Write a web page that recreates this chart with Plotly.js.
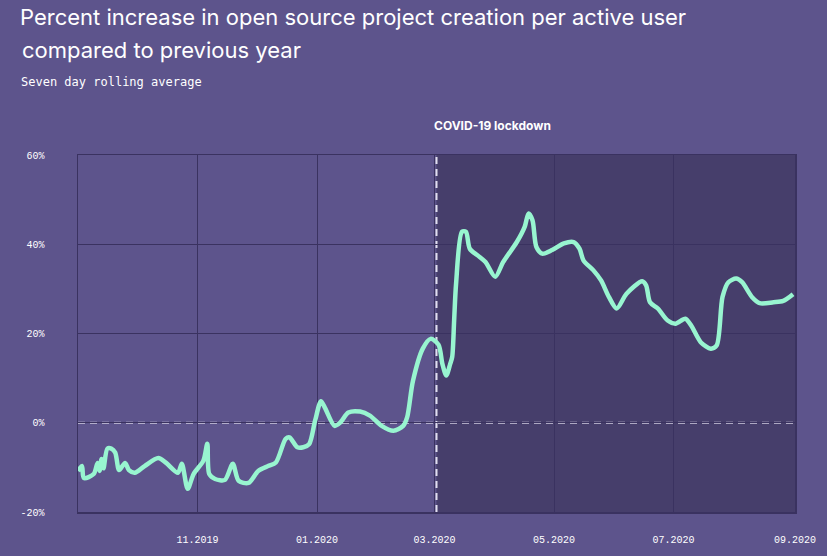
<!DOCTYPE html>
<html>
<head>
<meta charset="utf-8">
<script src="https://cdn.plot.ly/plotly-3.0.1.min.js"></script>
<style>html,body{margin:0;padding:0;background:#5d548c;}#chart{width:827px;height:556px;}</style>
</head>
<body>
<div id="chart"></div>
<script>
const dates = [
 '2019-09-01','2019-09-03','2019-09-04','2019-09-09','2019-09-11','2019-09-12','2019-09-13','2019-09-14',
 '2019-09-16','2019-09-18','2019-09-20','2019-09-22','2019-09-25','2019-09-27','2019-09-30','2019-10-05',
 '2019-10-12','2019-10-16','2019-10-22','2019-10-24','2019-10-27','2019-10-30','2019-11-04','2019-11-06',
 '2019-11-07','2019-11-10','2019-11-15','2019-11-19','2019-11-22','2019-11-27','2019-12-02','2019-12-07',
 '2019-12-11','2019-12-16','2019-12-18','2019-12-22','2019-12-25','2019-12-28','2019-12-31','2020-01-03',
 '2020-01-05','2020-01-10','2020-01-13','2020-01-17','2020-01-23','2020-01-28','2020-02-03','2020-02-09',
 '2020-02-14','2020-02-16','2020-02-19','2020-02-24','2020-02-28','2020-03-03','2020-03-05','2020-03-07',
 '2020-03-09','2020-03-10','2020-03-11','2020-03-12','2020-03-15','2020-03-17','2020-03-19','2020-03-23',
 '2020-03-27','2020-04-01','2020-04-05','2020-04-12','2020-04-16','2020-04-18','2020-04-20','2020-04-22',
 '2020-04-25','2020-04-30','2020-05-06','2020-05-11','2020-05-14','2020-05-16','2020-05-21','2020-05-25',
 '2020-05-29','2020-06-02','2020-06-07','2020-06-15','2020-06-17','2020-06-19','2020-06-23','2020-06-28',
 '2020-07-02','2020-07-07','2020-07-10','2020-07-15','2020-07-20','2020-07-23','2020-07-26','2020-07-29',
 '2020-08-02','2020-08-05','2020-08-10','2020-08-14','2020-08-21','2020-08-26','2020-08-31'
];
const values = [
 -10.8,-9.7,-12.4,-11.5,-9.0,-10.8,-8.1,-10.2,
 -5.8,-5.8,-6.7,-10.6,-9.0,-10.6,-11.2,-9.7,
 -7.9,-9.0,-11.2,-9.2,-14.8,-11.5,-8.5,-4.7,
 -11.5,-12.6,-12.8,-9.2,-13.0,-13.5,-10.8,-9.7,
 -8.9,-3.6,-3.3,-5.5,-5.5,-4.8,0.4,4.8,
 3.4,-0.7,0.1,2.3,2.5,1.6,-0.7,-1.8,
 -0.7,1.2,9.4,16.6,18.8,17.5,13.2,10.6,
 13.2,14.7,22.9,31.2,42.8,42.8,39.0,37.5,
 36.0,32.7,36.0,40.5,43.9,46.9,45.4,39.4,
 37.9,38.7,40.2,40.5,39.0,36.4,34.2,31.9,
 28.2,25.6,28.9,31.7,30.8,27.0,25.6,22.9,
 22.2,23.3,21.8,18.0,16.6,17.3,28.2,31.5,
 32.3,31.5,28.2,26.8,27.0,27.3,28.8
];
const yTicks = [-20, 0, 20, 40, 60];
const yTickLabels = ['-20%', '0%', '20%', '40%', '60%'];
const xTicks = ['2019-11-01', '2020-01-01', '2020-03-01', '2020-05-01', '2020-07-01', '2020-09-01'];
const xTickLabels = ['11.2019', '01.2020', '03.2020', '05.2020', '07.2020', '09.2020'];
const lockdownStart = '2020-03-02';
const rangeStart = '2019-09-01';
const rangeEnd = '2020-09-01';

const gridColor = '#3a3260';
const tickFont = {family: '"Liberation Mono", "DejaVu Sans Mono", monospace', size: 10, color: '#ffffff'};

const trace = {
  x: dates, y: values, type: 'scatter', mode: 'lines',
  line: {color: '#98f5d0', width: 4.5, shape: 'spline', smoothing: 0.8},
  hoverinfo: 'x+y'
};

const H = 357; // plot height px
const W = 717;
function py(p){ return (512 - p) / H; }
function px(p){ return (p - 78) / W; }

const layout = {
  width: 827, height: 556,
  paper_bgcolor: '#5d548c',
  plot_bgcolor: '#5d548c',
  margin: {l: 78, r: 32, t: 155, b: 44},
  showlegend: false,
  title: {
    text: 'Percent increase in open source project creation per active user',
    font: {family: 'Inter, "Liberation Sans", sans-serif', size: 22, color: '#ffffff'},
    x: 20/827, xref: 'container', xanchor: 'left',
    y: 1 - 17/556, yref: 'container', yanchor: 'middle'
  },
  xaxis: {
    type: 'date', range: [rangeStart, rangeEnd],
    tickmode: 'array', tickvals: xTicks, ticktext: xTickLabels,
    showgrid: true, gridcolor: gridColor, gridwidth: 1,
    showline: true, linecolor: gridColor, linewidth: 1.5, mirror: true,
    ticks: '', ticklabelstandoff: 17,
    tickfont: tickFont, zeroline: false, fixedrange: true
  },
  yaxis: {
    range: [-20, 60], tickmode: 'array', tickvals: yTicks, ticktext: yTickLabels,
    showgrid: true, gridcolor: gridColor, gridwidth: 1,
    showline: true, linecolor: gridColor, linewidth: 1.5, mirror: true,
    ticks: '', ticklabelstandoff: 30,
    tickfont: tickFont, zeroline: false, fixedrange: true
  },
  shapes: [
    {type: 'rect', xref: 'x', yref: 'paper', x0: lockdownStart, x1: rangeEnd, y0: 0, y1: 1,
     fillcolor: '#463e6b', line: {width: 0}, layer: 'below'},
    {type: 'line', xref: 'paper', yref: 'y', x0: 0, x1: 1, y0: 0, y1: 0,
     line: {color: '#cfcbe0', width: 2, dash: '7px,5px'}, layer: 'between'},
    {type: 'line', xref: 'x', yref: 'paper', x0: lockdownStart, x1: lockdownStart, y0: 0, y1: 1,
     line: {color: '#e2dff0', width: 2, dash: '7px,5px'}, layer: 'between'}
  ],
  annotations: [
    {text: 'compared to previous year', xref: 'paper', yref: 'paper',
     x: px(20), y: py(50), xanchor: 'left', yanchor: 'middle', showarrow: false,
     font: {family: 'Inter, "Liberation Sans", sans-serif', size: 22, color: '#ffffff'}},
    {text: 'Seven day rolling average', xref: 'paper', yref: 'paper',
     x: px(19), y: py(82), xanchor: 'left', yanchor: 'middle', showarrow: false,
     font: {family: '"DejaVu Sans Mono", monospace', size: 12, color: '#ffffff'}},
    {text: '<b>COVID-19 lockdown</b>', xref: 'x', yref: 'paper',
     x: lockdownStart, xshift: -5, y: py(125), xanchor: 'left', yanchor: 'middle', showarrow: false,
     font: {family: 'Inter, "Liberation Sans", sans-serif', size: 12, color: '#ffffff'}}
  ]
};

Plotly.newPlot('chart', [trace], layout, {displayModeBar: false, staticPlot: true});
</script>
</body>
</html>
